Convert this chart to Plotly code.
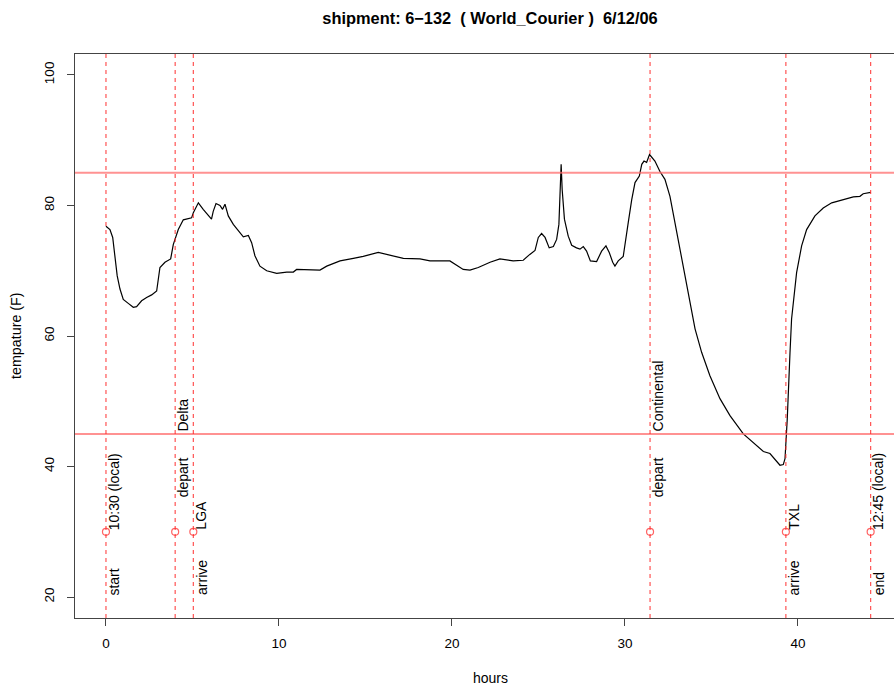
import plotly.graph_objects as go

# ---- data ----
hours = [0.0, 0.23, 0.39, 0.52, 0.65, 0.81, 1.0, 1.29, 1.58, 1.77, 2.06, 2.35, 2.64, 2.93,
         3.03, 3.12, 3.41, 3.74, 3.89, 4.18, 4.47, 4.95, 5.05, 5.34, 5.62, 6.1, 6.2, 6.36,
         6.59, 6.74, 6.88, 7.07, 7.36, 7.65, 7.94, 8.23, 8.42, 8.61, 8.9, 9.29, 9.87, 10.45,
         10.83, 11.02, 11.79, 12.37, 12.76, 13.53, 14.3, 14.87, 15.74, 16.22, 16.99, 17.19,
         18.15, 18.73, 19.88, 20.27, 20.65, 21.04, 21.52, 22.2, 22.77, 23.54, 24.12, 24.5,
         24.8, 24.99, 25.18, 25.38, 25.62, 25.86, 26.05, 26.18, 26.24, 26.28, 26.31, 26.37,
         26.5, 26.72, 26.92, 27.2, 27.4, 27.59, 27.78, 28.0, 28.36, 28.65, 28.9, 29.09, 29.29,
         29.42, 29.61, 29.9, 30.06, 30.19, 30.39, 30.58, 30.83, 30.97, 31.1, 31.25, 31.42,
         31.73, 32.02, 32.31, 32.6, 32.89, 33.18, 33.47, 33.76, 34.05, 34.43, 34.91, 35.49,
         36.07, 36.84, 37.8, 38.0, 38.38, 38.96, 39.15, 39.25, 39.38, 39.44, 39.54, 39.63,
         39.77, 39.92, 40.21, 40.5, 40.98, 41.46, 41.95, 42.62, 43.2, 43.58, 43.77, 44.2]
temps = [76.8, 76.3, 75.1, 72.3, 69.2, 67.2, 65.6, 65.0, 64.4, 64.5, 65.4, 65.9, 66.3, 66.9,
         68.7, 70.5, 71.3, 71.8, 74.0, 76.3, 77.8, 78.1, 78.9, 80.4, 79.4, 77.9, 79.1, 80.3,
         80.0, 79.4, 80.2, 78.4, 77.1, 76.1, 75.2, 75.4, 74.3, 72.3, 70.7, 70.0, 69.6, 69.8,
         69.8, 70.2, 70.2, 70.1, 70.7, 71.5, 71.9, 72.2, 72.8, 72.5, 72.0, 71.9,
         71.8, 71.5, 71.5, 70.8, 70.2, 70.1, 70.5, 71.3, 71.8, 71.5, 71.6, 72.5,
         73.1, 75.1, 75.7, 75.1, 73.5, 73.7, 74.8, 77.1, 80.4, 84.0, 86.3, 82.4,
         77.9, 75.3, 73.9, 73.5, 73.3, 73.7, 73.0, 71.5, 71.4, 73.0, 73.8, 72.8, 71.3,
         70.7, 71.5, 72.2, 74.8, 77.4, 80.9, 83.5, 84.5, 86.3, 86.8, 86.6, 87.8,
         86.8, 85.2, 84.0, 81.4, 77.4, 73.3, 69.2, 65.1, 61.1, 57.5, 53.9, 50.4,
         47.8, 45.0, 42.7, 42.3, 42.0, 40.2, 40.3, 41.2, 47.3, 52.4, 57.5, 62.6,
         66.2, 69.7, 73.8, 76.3, 78.4, 79.6, 80.4, 80.9, 81.3, 81.4, 81.8, 82.0]

limit_lines = [85, 45]

event_hours = [0.0, 4.0, 5.05, 31.45, 39.3, 44.2]
event_marker_temp = 30
label_bottom = ["start", "", "arrive", "", "arrive", "end"]      # at 20
label_time = ["10:30 (local)", "", "LGA", "", "TXL", "12:45 (local)"]  # at 30
label_depart = ["", "depart", "", "depart", "", ""]                # at 35
label_carrier = ["", "Delta", "", "Continental", "", ""]           # at 45
label_levels = [20, 30, 35, 45]

x_ticks = [0, 10, 20, 30, 40]
y_ticks = [20, 40, 60, 80, 100]

title = "shipment: 6\u2212132\u00a0 (\u00a0World_Courier\u00a0)\u00a0 6/12/06"

FONT = "Liberation Sans, Arial, Helvetica, sans-serif"

fig = go.Figure()

fig.add_trace(go.Scatter(x=hours, y=temps, mode="lines",
                         line=dict(color="black", width=1.2), showlegend=False,
                         hoverinfo="x+y"))

fig.add_trace(go.Scatter(x=event_hours, y=[event_marker_temp] * len(event_hours),
                         mode="markers",
                         marker=dict(symbol="circle-open", size=7,
                                     color="rgba(255,60,60,0.8)", line=dict(width=1.2)),
                         showlegend=False))

for h in limit_lines:
    fig.add_hline(y=h, line=dict(color="rgba(255,110,110,0.75)", width=2))

for x in event_hours:
    fig.add_vline(x=x, line=dict(color="rgba(255,40,40,0.8)", width=1.2, dash="4px,4px"))

for labels, lvl in zip([label_bottom, label_time, label_depart, label_carrier], label_levels):
    for x, t in zip(event_hours, labels):
        if not t:
            continue
        fig.add_annotation(x=x, y=lvl, xref="x", yref="y", text=t, showarrow=False,
                           textangle=-90, xanchor="center", yanchor="bottom", xshift=8,
                           font=dict(family=FONT, size=14, color="black"))

# axis titles (placed as in the reference)
fig.add_annotation(x=0.507, y=0, xref="paper", yref="paper", text="hours", showarrow=False,
                   xanchor="center", yanchor="middle", yshift=-60,
                   font=dict(family=FONT, size=14, color="black"))
fig.add_annotation(x=0, y=0.5, xref="paper", yref="paper", text="tempature (F)",
                   showarrow=False, textangle=-90, xanchor="center", yanchor="middle",
                   xshift=-59, font=dict(family=FONT, size=14.3, color="black"))

fig.update_layout(
    width=894, height=686,
    margin=dict(l=75, r=0, t=54, b=68, autoexpand=False),
    paper_bgcolor="white", plot_bgcolor="white",
    font=dict(family=FONT, size=13.5, color="black"),
    title=dict(text="<b>" + title + "</b>", x=490 / 894, xref="container", xanchor="center",
               y=1 - 18 / 686, yref="container", yanchor="middle",
               font=dict(family=FONT, size=16.4)),
    showlegend=False,
)

fig.update_xaxes(range=[-1.79, 45.55], tickvals=x_ticks,
                 showgrid=False, zeroline=False, automargin=False,
                 showline=True, linecolor="#444", linewidth=1, mirror=True,
                 ticks="outside", ticklen=7, tickcolor="#444",
                 ticklabelstandoff=6)
fig.update_yaxes(range=[16.8, 103.2], tickvals=y_ticks,
                 showgrid=False, zeroline=False, automargin=False,
                 showline=True, linecolor="#444", linewidth=1,
                 ticks="outside", ticklen=7, tickcolor="#444",
                 tickangle=-90, ticklabelstandoff=8)

fig.write_html("out.html",
               config={"displayModeBar": False},
               post_script="document.body.style.margin='0';"
                           "document.body.style.overflow='hidden';")
